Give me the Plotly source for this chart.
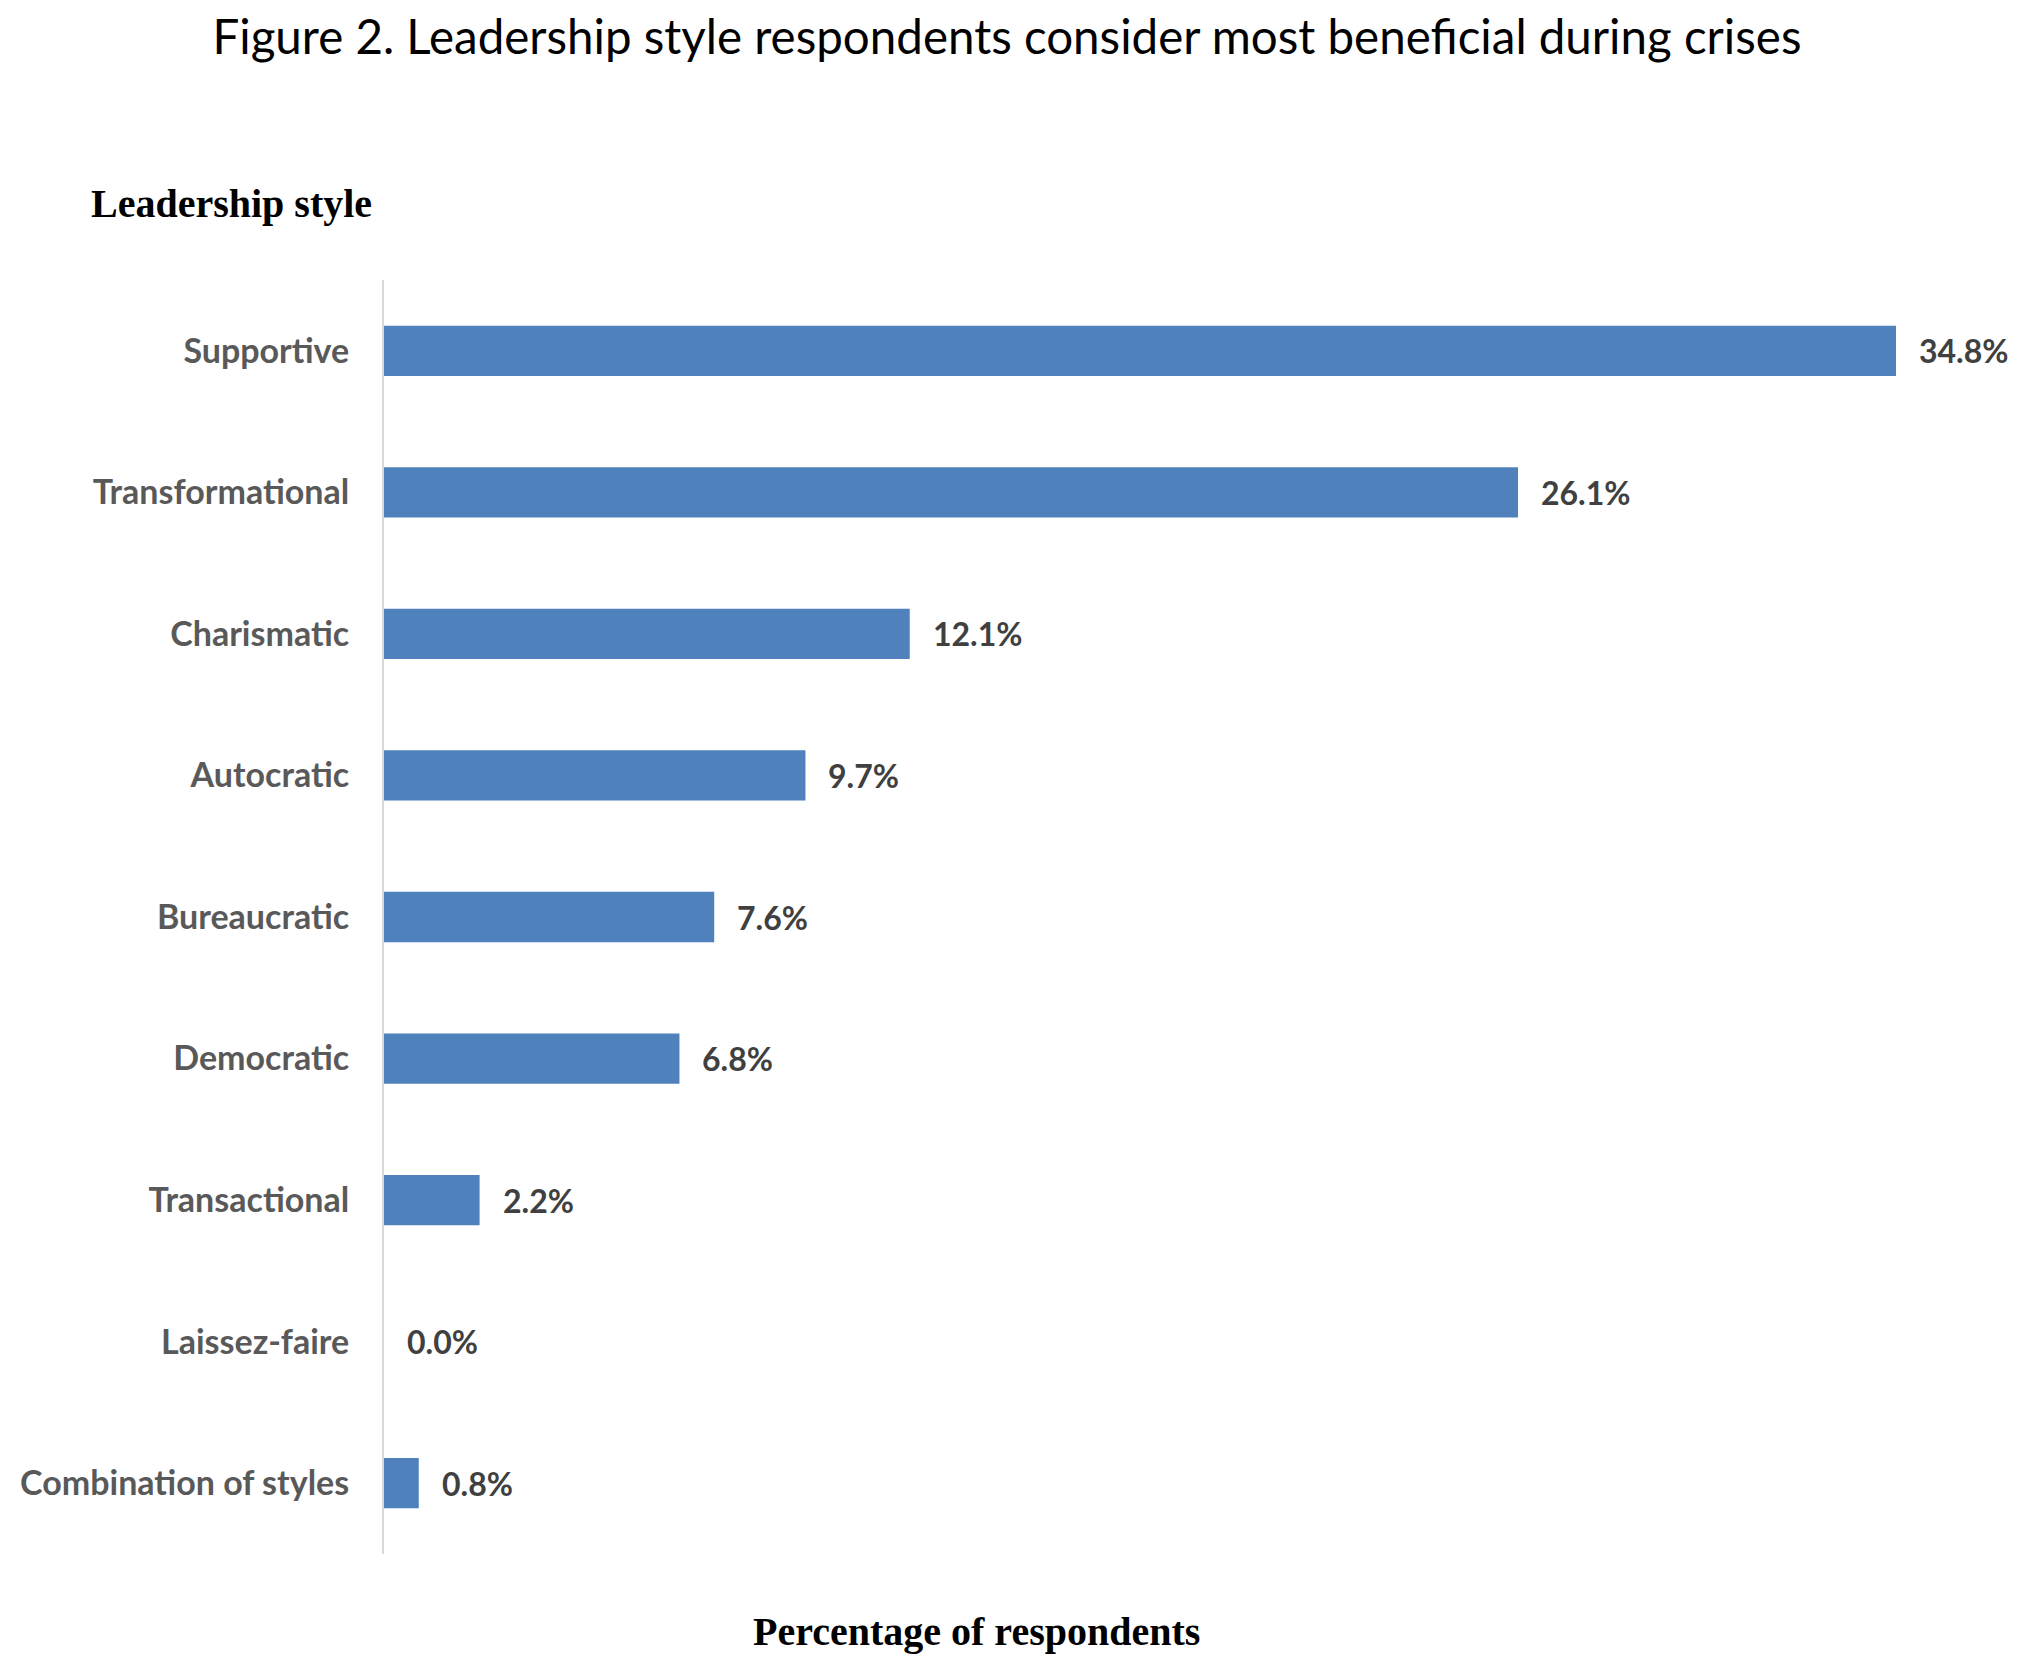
import plotly.graph_objects as go

categories = ["Supportive", "Transformational", "Charismatic", "Autocratic", "Bureaucratic",
              "Democratic", "Transactional", "Laissez-faire", "Combination of styles"]
values = [34.8, 26.1, 12.1, 9.7, 7.6, 6.8, 2.2, 0.0, 0.8]
labels = ["34.8%", "26.1%", "12.1%", "9.7%", "7.6%", "6.8%", "2.2%", "0.0%", "0.8%"]

W, H = 2018, 1667
L, R, T, B = 372, 67, 272, 121

fig = go.Figure()
fig.add_trace(go.Bar(
    y=categories, x=values, orientation="h",
    marker=dict(color="#4F81BD", line=dict(width=0)),
    width=0.355, hoverinfo="skip",
))

for c, v, t in zip(categories, values, labels):
    fig.add_annotation(x=v, y=c, xref="x", yref="y", text=t, showarrow=False,
                       xanchor="left", yanchor="middle", xshift=21,
                       font=dict(family="Lato", size=32, color="#404040", weight="bold"))

pw, ph = W - L - R, H - T - B
fig.add_annotation(x=(76 - L) / pw, y=(H - B - 195) / ph,
                   xref="paper", yref="paper", text="Leadership style", showarrow=False,
                   xanchor="left", yanchor="middle",
                   font=dict(family="Liberation Serif", size=40, color="#000000", weight="bold"))
fig.add_annotation(x=(966 - L) / pw, y=(H - B - 1623) / ph,
                   xref="paper", yref="paper", text="Percentage of respondents", showarrow=False,
                   xanchor="center", yanchor="middle",
                   font=dict(family="Liberation Serif", size=40, color="#000000", weight="bold"))

fig.update_layout(
    width=W, height=H,
    margin=dict(l=L, r=R, t=T, b=B),
    paper_bgcolor="white", plot_bgcolor="white",
    showlegend=False,
    title=dict(text="Figure 2. Leadership style respondents consider most beneficial during crises",
               x=999 / W, xanchor="center", y=1 - 29 / H, yanchor="middle",
               font=dict(family="Lato", size=47.5, color="#000000")),
    xaxis=dict(range=[0, 36.25], showgrid=False, zeroline=False, showticklabels=False,
               showline=False, ticks=""),
    yaxis=dict(autorange="reversed", showgrid=False, zeroline=False, showline=True,
               linecolor="#D9D9D9", linewidth=2, ticks="", ticklabelstandoff=26,
               tickfont=dict(family="Lato", size=34, color="#595959", weight="bold")),
)

fig.write_html("out.html")
